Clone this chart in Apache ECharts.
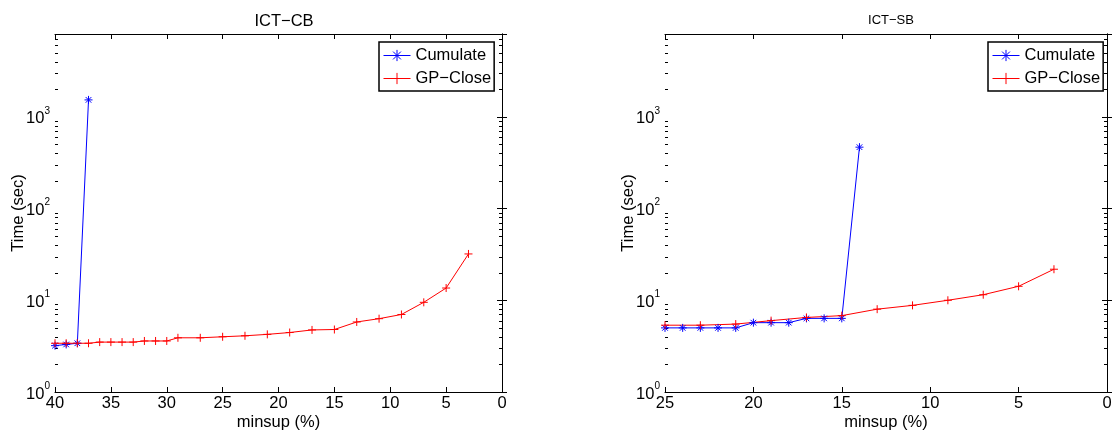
<!DOCTYPE html>
<html>
<head>
<meta charset="utf-8">
<script src="https://cdn.jsdelivr.net/npm/echarts@6/dist/echarts.min.js"></script>
<style>
  html, body { margin: 0; padding: 0; background: #fff; }
  #chart { width: 1118px; height: 433px; }
</style>
</head>
<body>
<div id="chart"></div>
<script>
// ICT-CB panel
const cbCumulateX = [40, 39, 38, 37];
const cbCumulateY = [3.2, 3.3, 3.4, 1530];
const cbGpCloseX = [40, 39, 38, 37, 36, 35, 34, 33, 32, 31, 30, 29, 27, 25, 23, 21, 19, 17, 15, 13, 11, 9, 7, 5, 3];
const cbGpCloseY = [3.4, 3.4, 3.4, 3.4, 3.5, 3.5, 3.5, 3.5, 3.6, 3.6, 3.6, 3.9, 3.9, 4.0, 4.1, 4.25, 4.45, 4.75, 4.8, 5.8, 6.3, 7.0, 9.5, 13.6, 32];

// ICT-SB panel
const sbCumulateX = [25, 24, 23, 22, 21, 20, 19, 18, 17, 16, 15, 14];
const sbCumulateY = [5.0, 5.0, 5.0, 5.0, 5.0, 5.7, 5.7, 5.7, 6.35, 6.35, 6.35, 467];
const sbGpCloseX = [25, 23, 21, 19, 17, 15, 13, 11, 9, 7, 5, 3];
const sbGpCloseY = [5.35, 5.35, 5.5, 6.0, 6.5, 6.8, 8.0, 8.8, 10.0, 11.5, 14.2, 21.8];

const titles = ['ICT\u2212CB', 'ICT\u2212SB'];
const seriesNames = ['Cumulate', 'GP\u2212Close'];
const xLabel = 'minsup (%)';
const yLabel = 'Time (sec)';
const xMaxes = [40, 25];
const yMin = 1;
const yMax = 8000;

const FONT = '"Liberation Sans", Arial, Helvetica, sans-serif';
const FS = 16.5;
const BLUE = '#0000ff';
const RED = '#ff0000';
const PLUS = 'path://M5,0L5,10M0,5L10,5';
const STAR = 'path://M5,0L5,10M0,5L10,5M1.5,1.5L8.5,8.5M1.5,8.5L8.5,1.5';

const grids = [
  { left: 55, top: 34, width: 447, height: 358, outerBoundsMode: 'none', containLabel: false },
  { left: 665, top: 34, width: 442, height: 358, outerBoundsMode: 'none', containLabel: false }
];

function zip(xs, ys) { return xs.map((x, i) => [x, ys[i]]); }

// minor log ticks at 2..9 of each decade
const minorVals = [];
for (let e = 0; e < 4; e++) {
  for (let m = 2; m <= 9; m++) {
    const v = m * Math.pow(10, e);
    if (v < yMax) minorVals.push(v);
  }
}

function powLabel(v) {
  const lg = Math.log10(v);
  if (Math.abs(lg - Math.round(lg)) > 1e-6) return '';
  return '{m|10}{e|' + Math.round(lg) + '}';
}

const axisLineStyle = { show: true, lineStyle: { color: '#000', width: 1 } };
const majorTick = { show: true, inside: true, length: 5, lineStyle: { color: '#000' } };

const xAxes = [];
const yAxes = [];
grids.forEach((g, i) => {
  xAxes.push({
    type: 'value', gridIndex: i, position: 'bottom', inverse: true,
    min: 0, max: xMaxes[i], interval: 5,
    name: xLabel, nameLocation: 'middle', nameGap: 22, nameMoveOverlap: false,
    nameTextStyle: { fontFamily: FONT, fontSize: FS, color: '#000' },
    axisLine: axisLineStyle,
    axisTick: majorTick,
    axisLabel: { show: true, fontFamily: FONT, fontSize: FS, color: '#000', margin: 3, showMinLabel: true, showMaxLabel: true },
    splitLine: { show: false }
  });
  xAxes.push({
    type: 'value', gridIndex: i, position: 'top', inverse: true,
    min: 0, max: xMaxes[i], interval: 5,
    axisLine: axisLineStyle,
    axisTick: majorTick,
    axisLabel: { show: false },
    splitLine: { show: false }
  });
  yAxes.push({
    type: 'log', logBase: 10, gridIndex: i, position: 'left',
    min: yMin, max: yMax, interval: 1,
    name: yLabel, nameLocation: 'middle', nameGap: 28, nameMoveOverlap: false,
    nameTextStyle: { fontFamily: FONT, fontSize: FS, color: '#000' },
    axisLine: axisLineStyle,
    axisTick: majorTick,
    axisLabel: {
      show: true, margin: 5, color: '#000',
      formatter: powLabel,
      rich: {
        m: { fontFamily: FONT, fontSize: FS, color: '#000', padding: [4, 0, 0, 0] },
        e: { fontFamily: FONT, fontSize: 10, color: '#000', padding: [0, 0, 12, 0] }
      }
    },
    splitLine: { show: false }
  });
  yAxes.push({
    type: 'log', logBase: 10, gridIndex: i, position: 'right',
    min: yMin, max: yMax, interval: 1,
    axisLine: axisLineStyle,
    axisTick: majorTick,
    axisLabel: { show: false },
    splitLine: { show: false }
  });
});

function minorTickItem(params, api) {
  const cs = params.coordSys;
  const y = Math.round(api.coord([0, api.value(1)])[1]) + 0.5;
  const style = { stroke: '#000', lineWidth: 1 };
  return {
    type: 'group',
    children: [
      { type: 'line', shape: { x1: cs.x, y1: y, x2: cs.x + 3, y2: y }, style: style },
      { type: 'line', shape: { x1: cs.x + cs.width - 3, y1: y, x2: cs.x + cs.width, y2: y }, style: style }
    ]
  };
}

function lineSeries(name, data, gi, color, symbol) {
  return {
    type: 'line', name: name, data: data,
    xAxisIndex: gi * 2, yAxisIndex: gi * 2,
    symbol: symbol, symbolSize: 8, showSymbol: true,
    lineStyle: { color: color, width: 1 },
    itemStyle: { color: color, borderColor: color, borderWidth: 1 },
    emphasis: { disabled: true },
    z: 3
  };
}

const series = [];
const panels = [
  [zip(cbCumulateX, cbCumulateY), zip(cbGpCloseX, cbGpCloseY)],
  [zip(sbCumulateX, sbCumulateY), zip(sbGpCloseX, sbGpCloseY)]
];
panels.forEach((p, gi) => {
  series.push(lineSeries(seriesNames[0], p[0], gi, BLUE, STAR));
  series.push(lineSeries(seriesNames[1], p[1], gi, RED, PLUS));
  series.push({
    type: 'custom', xAxisIndex: gi * 2, yAxisIndex: gi * 2,
    data: minorVals.map(v => [0, v]),
    renderItem: minorTickItem, silent: true, z: 1
  });
});

const legendBase = {
  orient: 'vertical', top: 42,
  data: seriesNames,
  itemWidth: 27, itemHeight: 14, itemGap: 6,
  padding: [5, 3, 4, 4],
  borderColor: '#000', borderWidth: 1.5, backgroundColor: '#fff',
  selectedMode: false,
  lineStyle: { width: 1 },
  itemStyle: { borderWidth: 1 },
  textStyle: { fontFamily: FONT, fontSize: FS, color: '#000', lineHeight: 14 }
};

const option = {
  animation: false,
  backgroundColor: '#fff',
  title: [
    { text: titles[0], left: 279, top: 8, textAlign: 'center',
      textStyle: { fontFamily: FONT, fontSize: FS, fontWeight: 'normal', color: '#000' } },
    { text: titles[1], left: 886, top: 9, textAlign: 'center',
      textStyle: { fontFamily: FONT, fontSize: 13, fontWeight: 'normal', color: '#000' } }
  ],
  legend: [
    Object.assign({}, legendBase, { left: 379 }),
    Object.assign({}, legendBase, { left: 988 })
  ],
  grid: grids,
  xAxis: xAxes,
  yAxis: yAxes,
  series: series
};

const chart = echarts.init(document.getElementById('chart'), null, { renderer: 'canvas' });
chart.setOption(option);
</script>
</body>
</html>
